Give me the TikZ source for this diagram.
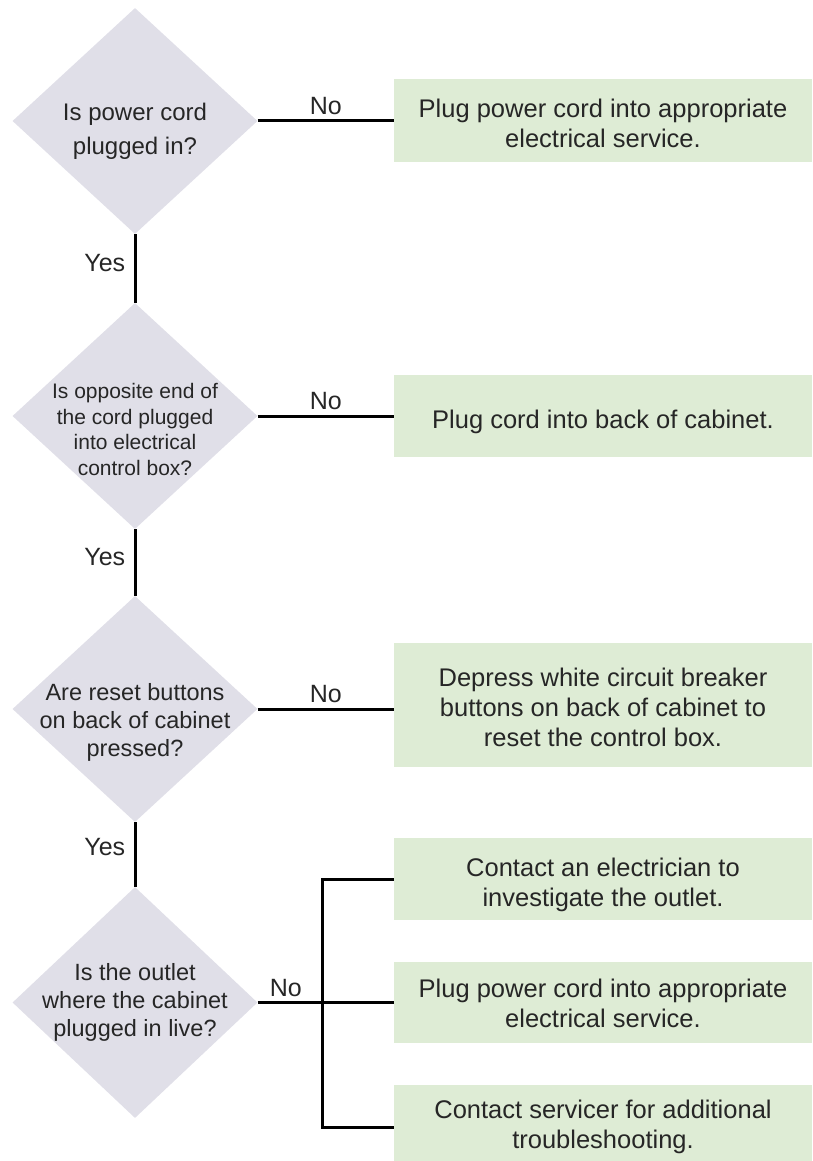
\documentclass[tikz,border=0pt]{standalone}
\usepackage{fontspec}
\setmainfont{Liberation Sans}
\usetikzlibrary{shapes.geometric}
\definecolor{diafill}{RGB}{224,223,232}
\definecolor{boxfill}{RGB}{222,236,213}
\definecolor{txt}{RGB}{38,38,38}
\begin{document}
\begin{tikzpicture}[x=1pt,y=-1pt,
  dia/.style={diamond, fill=diafill, draw=none, minimum width=245pt, minimum height=226pt, inner sep=0pt},
  qtext/.style={align=center, text=txt, inner sep=0pt},
  act/.style={rectangle, fill=boxfill, draw=none, minimum width=418pt, inner sep=0pt},
  atext/.style={align=center, text=txt, inner sep=0pt, font=\fontsize{25.5}{30}\selectfont},
  conn/.style={draw=black, line width=3pt},
  lbl/.style={text=txt, font=\fontsize{25}{30}\selectfont}]
\useasboundingbox (0,0) rectangle (812,1161);

% decisions
\node[dia] (d1) at (135,121) {};
\node[dia] (d2) at (135,416) {};
\node[dia] (d3) at (135,709) {};
\node[dia, minimum height=231pt] (d4) at (135,1002.5) {};

\node[qtext, font=\fontsize{24}{34}\selectfont] (t1) at (135,131.5) {Is power cord\\plugged in?};
\node[qtext, font=\fontsize{21}{25.5}\selectfont] (t2) at (135,429.5) {Is opposite end of\\the cord plugged\\into electrical\\control box?};
\node[qtext, font=\fontsize{23.5}{28}\selectfont] (t3) at (135,722.5) {Are reset buttons\\on back of cabinet\\pressed?};
\node[qtext, font=\fontsize{23.5}{28}\selectfont] (t4) at (135,1002) {Is the outlet\\where the cabinet\\plugged in live?};

% actions
\node[act, minimum height=83pt] (b1) at (603,120.5) {};
\node[act, minimum height=82pt] (b2) at (603,416) {};
\node[act, minimum height=124pt] (b3) at (603,704.5) {};
\node[act, minimum height=82pt] (bA) at (603,879) {};
\node[act, minimum height=81pt] (bB) at (603,1002.5) {};
\node[act, minimum height=76pt] (bC) at (603,1123) {};

\node[atext] (s1) at ([yshift=-2.5pt]b1.center) {Plug power cord into appropriate\\electrical service.};
\node[atext] (s2) at ([yshift=-6pt]b2.center) {Plug cord into back of cabinet.};
\node[atext] (s3) at ([yshift=-2.5pt]b3.center) {Depress white circuit breaker\\buttons on back of cabinet to\\reset the control box.};
\node[atext] (sA) at ([yshift=-6pt]bA.center) {Contact an electrician to\\investigate the outlet.};
\node[atext] (sB) at ([yshift=-0.5pt]bB.center) {Plug power cord into appropriate\\electrical service.};
\node[atext] (sC) at ([yshift=-4pt]bC.center) {Contact servicer for additional\\troubleshooting.};

% yes connectors
\draw[conn] (d1.south) -- node[lbl, pos=0.42, left=5pt] {Yes} (d2.north);
\draw[conn] (d2.south) -- node[lbl, pos=0.42, left=5pt] {Yes} (d3.north);
\draw[conn] (d3.south) -- node[lbl, pos=0.38, left=5pt] {Yes} (d4.north);

% no connectors
\draw[conn] (d1.east) -- node[lbl, above=1pt] {No} (d1.east -| b1.west);
\draw[conn] (d2.east) -- node[lbl, above=1pt] {No} (d2.east -| b2.west);
\draw[conn] (d3.east) -- node[lbl, above=1pt] {No} (d3.east -| b3.west);

\coordinate (j) at (322,1002.5);
\coordinate (ja) at (322,879);
\coordinate (jc) at (322,1127);
\draw[conn] (d4.east) -- node[lbl, above=1pt, xshift=-4pt] {No} (j);
\draw[conn, line cap=rect] (ja) -- (jc);
\draw[conn] (ja) -- (bA.west);
\draw[conn] (j) -- (bB.west);
\draw[conn] (jc) -- (jc -| bC.west);
\end{tikzpicture}
\end{document}
